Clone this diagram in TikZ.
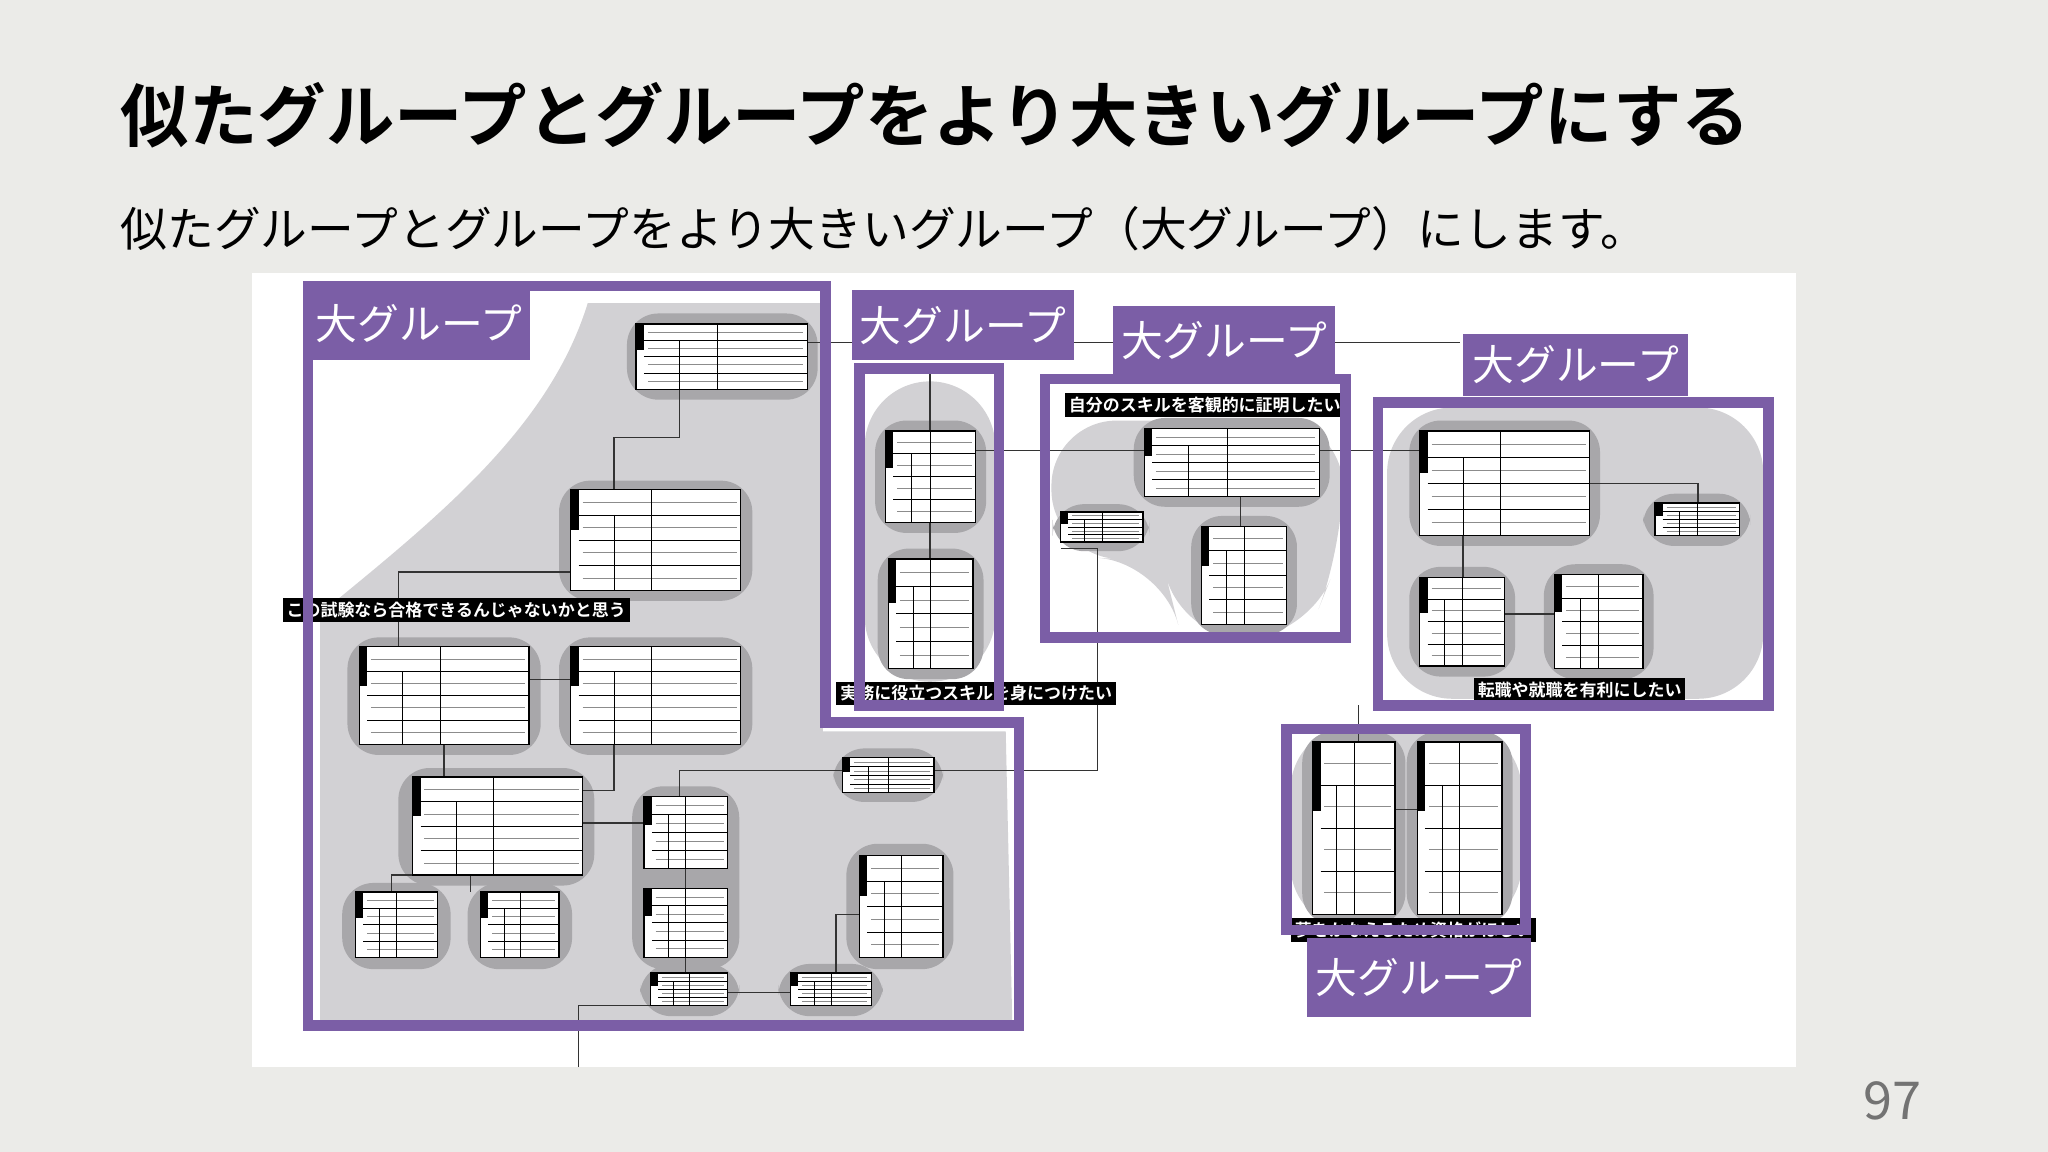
\documentclass[tikz,border=0pt]{standalone}
\usepackage{fontspec}
\setmainfont{Noto Sans CJK JP}
\newfontfamily\jpb{Noto Sans CJK JP Bold}
\definecolor{bgc}{HTML}{EBEBE8}
\definecolor{purp}{HTML}{7B5EA6}
\definecolor{lgray}{HTML}{D2D1D4}
\definecolor{dgray}{HTML}{A8A7AA}
\tikzset{
 frame/.style={draw=purp,line width=4pt},
 glabel/.style={fill=purp,text=white,inner sep=0pt,anchor=north west,font=\fontsize{16}{16}\selectfont},
 bar/.style={fill=black,text=white,inner sep=1.5pt,anchor=west,font=\jpb\fontsize{6.5}{7}\selectfont},
 conn/.style={draw=black!80,line width=0.5pt},
 blob/.style={fill=dgray,rounded corners=12pt},
}
\newcommand\mycard[5]{% name x1 y1 x2 y2
 \fill[white] (#2,#3) rectangle (#4,#5);
 \fill[black] (#2,#3) rectangle ({#2+6},{#3+0.4*(#5-#3)});
 \foreach \k in {1,2,3}{\draw[black,line width=0.3pt] ({#2+6},{#3+\k*(#5-#3)/4}) -- (#4,{#3+\k*(#5-#3)/4});}
 \foreach \k in {1,3,5,7}{\draw[black!45,line width=0.2pt] ({#2+9},{#3+\k*(#5-#3)/8}) -- ({#4-3},{#3+\k*(#5-#3)/8});}
 \draw[black,line width=0.3pt] ({#2+6+0.45*(#4-#2-6)},#3) -- ({#2+6+0.45*(#4-#2-6)},#5);
 \draw[black,line width=0.3pt] ({#2+6+0.22*(#4-#2-6)},{#3+(#5-#3)/4}) -- ({#2+6+0.22*(#4-#2-6)},#5);
 \draw[red!80!black,line width=0.4pt] (#2,#3) -- (#4,#3);
 \node[draw=black,line width=0.5pt,inner sep=0pt,fit={(#2,#3) (#4,#5)}] (#1) {};
}
\usetikzlibrary{fit}
\begin{document}
\begin{tikzpicture}[x=0.5pt,y=-0.5pt]
\fill[bgc] (0,0) rectangle (1568,882);
\useasboundingbox (0,0) rectangle (1568,882);
\node[anchor=west,inner sep=0pt,font=\jpb\fontsize{26.2}{27}\selectfont] (title) at (92,88) {似たグループとグループをより大きいグループにする};
\node[anchor=west,inner sep=0pt,font=\fontsize{17.9}{18}\selectfont] (sub) at (92,175) {似たグループとグループをより大きいグループ（大グループ）にします。};
\node[anchor=center,inner sep=0pt,text=black!55,font=\fontsize{20}{20}\selectfont] (pg) at (1449,843) {97};
\fill[white] (193,209) rectangle (1375,817);
% light gray areas
\fill[lgray] (245,470) .. controls (330,400) and (420,330) .. (450,232) -- (630,232) -- (630,560) -- (770,560) -- (775,782) -- (245,782) -- cycle;
\fill[lgray,rounded corners=25pt] (662,292) rectangle (762,522);
\fill[lgray,rounded corners=25pt] (805,322) -- (1028,322) -- (1028,420) -- (1000,490) -- (905,490) -- (890,430) -- (805,425) -- cycle;
\fill[lgray,rounded corners=25pt] (1062,312) rectangle (1350,535);
\fill[lgray,rounded corners=25pt] (988,555) rectangle (1165,712);
% dark blobs
\foreach \a/\b/\c/\d in {480/240/626/306, 428/368/576/460, 266/488/414/578, 428/488/576/578, 305/588/455/678, 262/676/345/742, 358/676/438/742, 484/602/566/742, 490/738/566/778, 596/738/676/778, 648/646/730/742, 638/573/722/614, 670/322/755/408, 672/420/753/520, 868/320/1018/388, 806/386/880/422, 912/395/993/486, 1079/322/1225/418, 1079/434/1160/518, 1182/432/1266/520, 1258/378/1340/418, 997/560/1076/708, 1077/560/1158/708}
 \fill[blob] (\a,\b) rectangle (\c,\d);
% connectors
\draw[conn] (618,262) -- (1118,262);
\draw[conn] (520,298) -- (520,335) -- (470,335) -- (470,375);
\draw[conn] (305,495) -- (305,438) -- (437,438);
\draw[conn] (405,520) -- (437,520);
\draw[conn] (340,570) -- (340,595);
\draw[conn] (470,570) -- (470,605) -- (446,605);
\draw[conn] (446,630) -- (493,630);
\draw[conn] (300,683) -- (300,670) -- (360,670) -- (360,683);
\draw[conn] (443,817) -- (443,770) -- (498,770);
\draw[conn] (525,665) -- (525,680);
\draw[conn] (525,733) -- (525,745);
\draw[conn] (557,760) -- (605,760);
\draw[conn] (640,745) -- (640,700) -- (658,700);
\draw[conn] (715,590) -- (840,590) -- (840,420) -- (812,420);
\draw[conn] (520,610) -- (520,590) -- (645,590);
\draw[conn] (712,280) -- (712,330);
\draw[conn] (712,400) -- (712,428);
\draw[conn] (747,345) -- (1087,345);
\draw[conn] (950,380) -- (950,403);
\draw[conn] (1120,410) -- (1120,442);
\draw[conn] (1217,370) -- (1300,370) -- (1300,385);
\draw[conn] (1152,470) -- (1190,470);
\draw[conn] (1068,620) -- (1085,620);
\draw[conn] (1040,540) -- (1040,568);
% cards
\mycard{A}{487}{248}{618}{298}
\mycard{B}{437}{375}{567}{452}
\mycard{C}{275}{495}{405}{570}
\mycard{D}{437}{495}{567}{570}
\mycard{E}{316}{595}{446}{670}
\mycard{F}{272}{683}{335}{733}
\mycard{G}{368}{683}{428}{733}
\mycard{H}{493}{610}{557}{665}
\mycard{I}{493}{680}{557}{733}
\mycard{J}{498}{745}{557}{770}
\mycard{K}{605}{745}{667}{770}
\mycard{L}{658}{655}{722}{733}
\mycard{M}{645}{580}{715}{607}
\mycard{N}{678}{330}{747}{400}
\mycard{O}{680}{428}{745}{512}
\mycard{P}{876}{328}{1010}{380}
\mycard{Q}{812}{392}{875}{415}
\mycard{R}{920}{403}{985}{478}
\mycard{S}{1087}{330}{1217}{410}
\mycard{T}{1087}{442}{1152}{510}
\mycard{U}{1190}{440}{1258}{512}
\mycard{V}{1267}{385}{1332}{410}
\mycard{W}{1005}{568}{1068}{700}
\mycard{X}{1085}{568}{1150}{700}
% black label bars
\node[bar] (b1) at (815,310) {自分のスキルを客観的に証明したい};
\node[bar] (b2) at (216,467) {この試験なら合格できるんじゃないかと思う};
\node[bar] (b3) at (640,531) {実務に役立つスキルを身につけたい};
\node[bar] (b4) at (1128,528) {転職や就職を有利にしたい};
\node[bar] (b5) at (988,712) {夢をかなえるため資格がほしい};
% purple frames
\draw[frame] (236,219) -- (632,219) -- (632,553) -- (780,553) -- (780,785) -- (236,785) -- cycle;
\draw[frame] (658,282) rectangle (765,540);
\draw[frame] (800,290) rectangle (1030,488);
\draw[frame] (1055,308) rectangle (1354,540);
\draw[frame] (985,558) rectangle (1168,712);
\node[glabel,minimum width=84.5pt,minimum height=28pt] (g1) at (236,219) {大グループ};
\node[glabel,minimum width=85pt,minimum height=26.5pt] (g2) at (652,222) {大グループ};
\node[glabel,minimum width=85pt,minimum height=26.5pt] (g3) at (852,234) {大グループ};
\node[glabel,minimum width=86pt,minimum height=24pt] (g4) at (1120,255) {大グループ};
\node[glabel,minimum width=86pt,minimum height=30pt] (g5) at (1000,718) {大グループ};
\end{tikzpicture}
\end{document}
